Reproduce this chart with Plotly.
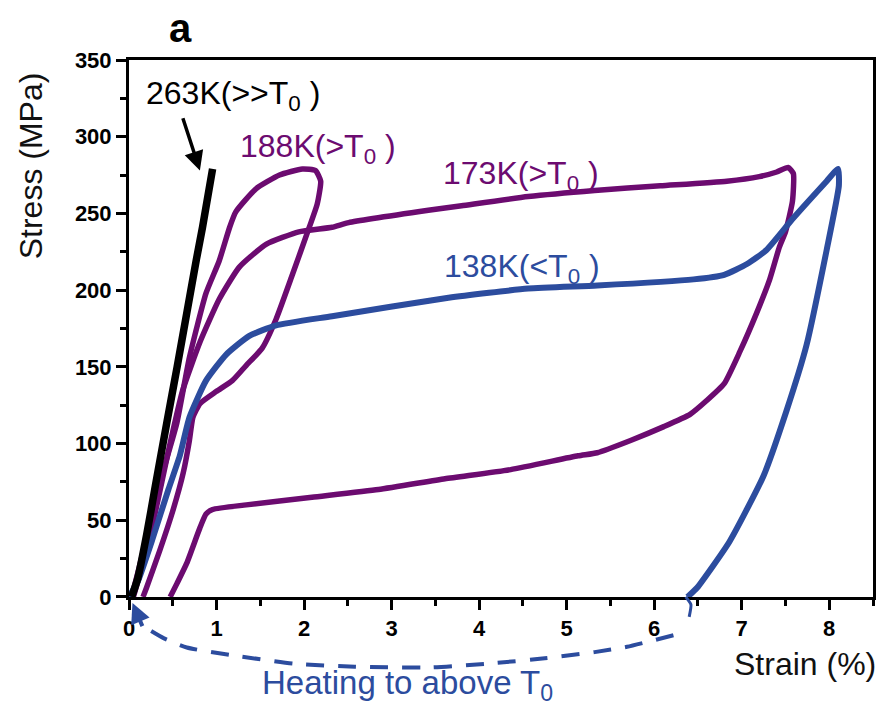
import plotly.graph_objects as go

# ---- data: stress-strain loops (strain %, stress MPa) ----
k263_strain = [0.03, 0.10, 0.20, 0.30, 0.43, 0.55, 0.66, 0.77, 0.84, 0.955]
k263_stress = [0, 12, 40, 72, 113, 150, 185, 220, 241, 279]

k188_strain = [0.03, 0.12, 0.25, 0.38, 0.545, 0.69, 0.88, 1.03, 1.15, 1.22, 1.45, 1.72,
               1.98, 2.13, 2.19, 2.15, 2.06, 1.86, 1.68, 1.52, 1.34, 1.18, 1.00, 0.81,
               0.73, 0.69, 0.62, 0.50, 0.35, 0.20, 0.16]
k188_stress = [0, 20, 50, 80, 113, 156, 198, 219, 241, 251, 266, 275,
               279, 278, 271, 256, 241, 209, 181, 162, 151, 141, 134, 126,
               117, 102, 81, 56, 30, 6, 0]

k173_strain = [0.05, 0.15, 0.30, 0.45, 0.61, 0.81, 1.03, 1.26, 1.57, 1.94, 2.32, 2.51,
               3.42, 3.80, 4.56, 5.32, 6.07, 6.83, 7.20, 7.40, 7.53, 7.59, 7.58, 7.50,
               7.43, 7.32, 7.17, 6.98, 6.80, 6.60, 6.41, 6.11, 5.73, 5.35, 5.13, 4.36,
               3.61, 2.85, 2.09, 1.34, 0.955, 0.88, 0.81, 0.66, 0.55, 0.47]
k173_stress = [0, 20, 55, 95, 134, 166, 194, 215, 230, 238, 241, 244,
               252, 255, 261, 265, 268, 271, 274, 277, 280, 276, 258, 238,
               228, 207, 185, 160, 139, 128, 119, 111, 102, 94, 92, 83,
               77, 70, 65, 60, 57, 54, 45, 22, 9, 0]

k138_strain = [0.0, 0.10, 0.27, 0.45, 0.58, 0.69, 0.88, 1.11, 1.37, 1.68, 2.32, 3.65,
               4.56, 5.35, 6.45, 6.80, 7.06, 7.28, 7.59, 7.97, 8.10, 8.11, 7.97, 7.74,
               7.51, 7.25, 6.86, 6.49, 6.38]
k138_stress = [0, 10, 38, 70, 92, 117, 141, 158, 170, 177, 183, 195,
               201, 203, 207, 210, 217, 226, 247, 271, 279, 268, 226, 164,
               121, 79, 36, 6, 0]

# heating path drawn beneath the strain axis (blue dashed return)
heat_strain = [6.22, 5.69, 5.32, 4.75, 4.20, 3.45, 2.58, 1.88, 1.18, 0.66, 0.40, 0.16]
heat_stress = [-25, -32.5, -36, -40, -43, -46, -45.5, -43.5, -38, -33, -27, -19]
kink_strain = [6.36, 6.42, 6.40]
kink_stress = [0, -5, -13]

PURPLE = "#6c0b70"
BLUE = "#2c4c9e"
FONT = "Liberation Sans, Arial, sans-serif"

# ---- layout geometry ----
W, H = 885, 721
ML, MR, MT, MB = 129, 9, 60, 10
Y_MAX = 350
zero_px = 607                     # pixel row of the strain axis
dom0 = (H - MB - zero_px) / (H - MT - MB)
y2_lo = Y_MAX - Y_MAX / (1 - dom0)

fig = go.Figure()


def curve(xs, ys, color, width, yaxis="y", dash="solid"):
    fig.add_trace(go.Scatter(x=xs, y=ys, mode="lines", yaxis=yaxis,
                             line=dict(color=color, width=width, dash=dash,
                                       shape="spline", smoothing=0.5),
                             hoverinfo="skip", showlegend=False))


curve(k173_strain, k173_stress, PURPLE, 5.5)
curve(k188_strain, k188_stress, PURPLE, 5.5)
curve(k138_strain, k138_stress, BLUE, 6)
curve(k263_strain, k263_stress, "black", 7.5)
curve(heat_strain, heat_stress, BLUE, 4, yaxis="y2", dash="18px,14px")
curve(kink_strain, kink_stress, BLUE, 3, yaxis="y2")

ann = []


def label(text, x, y, color, yref="y", size=32, **kw):
    d = dict(text=text, x=x, y=y, xref="x", yref=yref, showarrow=False,
             xanchor="left", yanchor="middle",
             font=dict(family=FONT, size=size, color=color))
    d.update(kw)
    ann.append(d)


label("263K(>>T<sub>0</sub> )", 0.17, 327, "black")
label("188K(>T<sub>0</sub> )", 1.25, 292, PURPLE)
label("173K(>T<sub>0</sub> )", 3.56, 275, PURPLE)
label("138K(<T<sub>0</sub> )", 3.58, 214, BLUE)
label("Heating to above T<sub>0</sub>", 1.5, -57.5, BLUE, yref="y2", size=33)
label("Strain (%)", 8.5, -44, "#111", yref="y2", xanchor="right", xshift=5)

# arrow pointing at the 263K curve
ann.append(dict(x=0.81, y=278, xref="x", yref="y", ax=0.61, ay=313,
                axref="x", ayref="y", text="", showarrow=True,
                arrowhead=2, arrowsize=1.1, arrowwidth=3.5, arrowcolor="black"))
# arrowhead closing the heating path at the origin
ann.append(dict(x=0.04, y=-4, xref="x", yref="y2", ax=0.16, ay=-20,
                axref="x", ayref="y2", text="", showarrow=True,
                arrowhead=2, arrowsize=1.0, arrowwidth=4, arrowcolor=BLUE))

# axis title for stress and the panel letter
ann.append(dict(text="Stress (MPa)", x=-0.1325, y=281, xref="paper", yref="y",
                textangle=-90, showarrow=False, xanchor="center", yanchor="middle",
                font=dict(family=FONT, size=32, color="#111")))
ann.append(dict(text="<b>a</b>", x=(181 - ML) / (W - ML - MR), y=1.05, xref="paper",
                yref="paper", showarrow=False, xanchor="center", yanchor="middle",
                font=dict(family=FONT, size=40, color="black")))

tickfont = dict(family=FONT, size=22, color="black", weight="bold")
axis_common = dict(showline=True, linewidth=3, linecolor="black", mirror=True,
                   ticks="outside", ticklen=10, tickwidth=3, tickcolor="black",
                   showgrid=False, zeroline=False, tickfont=tickfont)

fig.update_layout(
    width=W, height=H,
    margin=dict(l=ML, r=MR, t=MT, b=MB),
    paper_bgcolor="white", plot_bgcolor="rgba(0,0,0,0)",
    xaxis=dict(range=[0, 8.5], tick0=0, dtick=1, anchor="y",
               minor=dict(dtick=0.5, ticks="outside", ticklen=6, tickwidth=2.5,
                          tickcolor="black"),
               **axis_common),
    yaxis=dict(range=[0, Y_MAX], tick0=0, dtick=50, domain=[dom0, 1], anchor="x",
               minor=dict(dtick=25, ticks="outside", ticklen=6, tickwidth=2.5,
                          tickcolor="black"),
               **axis_common),
    yaxis2=dict(range=[y2_lo, Y_MAX], domain=[0, 1], anchor="x", visible=False),
    annotations=ann,
)

fig.write_html("out.html")
